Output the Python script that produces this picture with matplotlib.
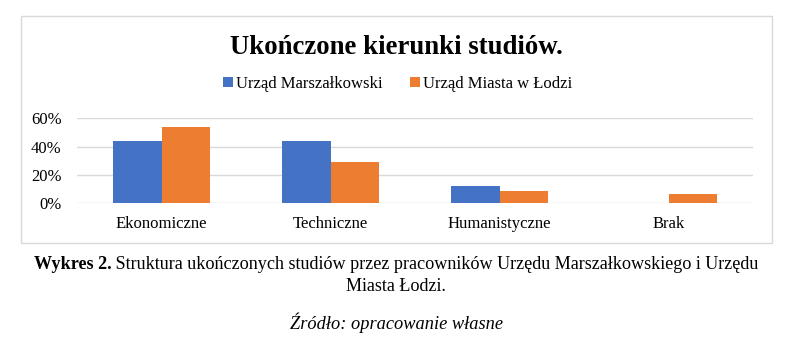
import numpy as np
import matplotlib
matplotlib.use("Agg")
import matplotlib.pyplot as plt
from matplotlib.patches import Rectangle
from matplotlib.ticker import FuncFormatter

plt.rcParams['font.family'] = ['Liberation Serif', 'DejaVu Serif']

categories = ["Ekonomiczne", "Techniczne", "Humanistyczne", "Brak"]
series_names = ["Urząd Marszałkowski", "Urząd Miasta w Łodzi"]
marszalkowski = [0.44, 0.44, 0.12, 0.0]
miasto = [0.54, 0.29, 0.09, 0.065]
y_ticks = [0.0, 0.2, 0.4, 0.6]

title = "Ukończone kierunki studiów."
caption_bold = "Wykres 2."
caption_rest = " Struktura ukończonych studiów przez pracowników Urzędu Marszałkowskiego i Urzędu"
caption_line2 = "Miasta Łodzi."
source = "Źródło: opracowanie własne"

blue = "#4472C4"
orange = "#ED7D31"
grid_c = "#D9D9D9"

W, H = 792, 338
fig = plt.figure(figsize=(W / 100, H / 100), dpi=100)

# outer chart frame
fig.patches.append(Rectangle((21 / W, 1 - 243 / H), 751 / W, 227 / H,
                             transform=fig.transFigure, fill=False,
                             edgecolor=grid_c, lw=1))

ax = fig.add_axes([77 / W, 1 - 203.3 / H, 676 / W, 85 / H])
x = np.arange(len(categories))
bw = 0.287
b1 = ax.bar(x - bw / 2, marszalkowski, bw, color=blue, label=series_names[0], zorder=3)
b2 = ax.bar(x + bw / 2, miasto, bw, color=orange, label=series_names[1], zorder=3)

ax.set_xlim(-0.5, len(categories) - 0.5)
ax.set_ylim(0, 0.6)
ax.set_yticks(y_ticks)
ax.yaxis.set_major_formatter(FuncFormatter(lambda v, p: f"{v*100:.0f}%"))
ax.set_xticks(x)
ax.set_xticklabels(categories)
ax.tick_params(axis='both', length=0, labelsize=12)
ax.tick_params(axis='y', pad=11)
ax.tick_params(axis='x', pad=9.5)
for s in ax.spines.values():
    s.set_visible(False)
ax.yaxis.grid(True, color=grid_c, lw=1, zorder=0)
ax.set_axisbelow(True)
ax.set_facecolor('none')

fig.text(0.5, 1 - 54.3 / H, title, ha='center', va='baseline',
         fontsize=19.3, fontweight='bold')

fig.legend(handles=[b1, b2], loc='center', bbox_to_anchor=(0.502, 1 - 84 / H),
           ncol=2, frameon=False, fontsize=12, handlelength=0.6,
           handleheight=0.6, handletextpad=0.2, columnspacing=1.62)

# caption, first line with bold prefix, centred as a whole
r = fig.canvas.get_renderer()
y1 = 1 - 269 / H
tb = fig.text(0, y1, caption_bold, fontsize=13.1, fontweight='bold', va='baseline')
tr = fig.text(0, y1, caption_rest, fontsize=13.1, va='baseline')
wb = tb.get_window_extent(r).width
wr = tr.get_window_extent(r).width
x0 = (W - wb - wr) / 2
tb.set_x(x0 / W)
tr.set_x((x0 + wb) / W)

fig.text(0.5, 1 - 291 / H, caption_line2, fontsize=13.1, ha='center', va='baseline')
fig.text(0.5, 1 - 329 / H, source, fontsize=13.2, ha='center', va='baseline',
         style='italic')

fig.savefig("out.png", dpi=100)
